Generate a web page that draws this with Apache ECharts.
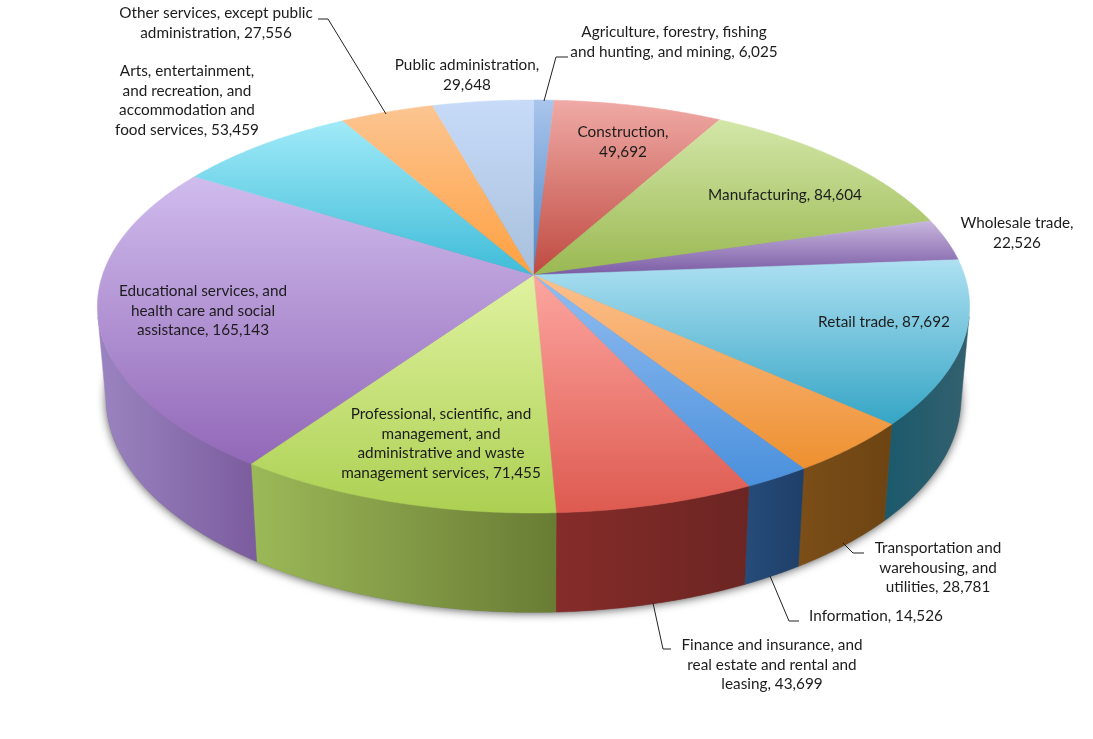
<!DOCTYPE html>
<html>
<head>
<meta charset="utf-8">
<style>html,body{margin:0;padding:0;background:#fff}#c{width:1093px;height:739px}</style>
<script src="https://cdn.jsdelivr.net/npm/echarts@6/dist/echarts.min.js"></script>
</head>
<body>
<div id="c"></div>
<script>
// ---- data ----
const categories = [
  "Agriculture, forestry, fishing\nand hunting, and mining, ",
  "Construction,\n",
  "Manufacturing, ",
  "Wholesale trade,\n",
  "Retail trade, ",
  "Transportation and\nwarehousing, and\nutilities, ",
  "Information, ",
  "Finance and insurance, and\nreal estate and rental and\nleasing, ",
  "Professional, scientific, and\nmanagement, and\nadministrative and waste\nmanagement services, ",
  "Educational services, and\nhealth care and social\nassistance, ",
  "Arts, entertainment,\nand recreation, and\naccommodation and\nfood services, ",
  "Other services, except public\nadministration, ",
  "Public administration,\n"
];
const values = [6025, 49692, 84604, 22526, 87692, 28781, 14526, 43699, 71455, 165143, 53459, 27556, 29648];

// ---- styles ----
const topColors = [
  ["#a9c5ec", "#4d86c6"], ["#f0aaa6", "#bf4a40"], ["#d3e7a8", "#9ab852"], ["#c8b6de", "#7a5ba4"],
  ["#aee0f2", "#35a5c5"], ["#fcc08e", "#ee9030"], ["#92bdf0", "#4a90dc"], ["#fca6a0", "#de5a50"],
  ["#e0f2a0", "#acd052"], ["#d0bced", "#9268b8"], ["#a0eaf8", "#3fbcd8"], ["#fcc592", "#ffa040"],
  ["#c7dbf9", "#a8c0dc"]
];
const wallColors = [
  ["#3a6a9c", "#2c5484"], ["#8c3a34", "#743028"], ["#8ea24c", "#72863c"], ["#7a5a9c", "#644a84"],
  ["#1a5a6c", "#34606e"], ["#7c4e18", "#6c4412"], ["#264c7a", "#1e3f68"], ["#862c2a", "#6b2522"],
  ["#9cb958", "#697c34"], ["#9a84c0", "#7b5c9e"], ["#3a9ab4", "#2c8aa4"], ["#c88238", "#b0702c"],
  ["#8aa0c0", "#7890b0"]
];
const labelLayout = [
  [674, 32], [623, 132], [785, 195], [1017, 223], [884, 322], [938, 548], [876, 616],
  [772, 645], [441, 414], [203, 291], [187, 71], [216, 13], [467, 65]
];
const leaders = [
  [[568, 57], [556, 57], [544, 101]],
  [[864, 553], [853, 553], [843, 543]],
  [[799, 621], [789, 621], [770, 576]],
  [[671, 649], [663, 649], [653, 603]],
  [[318, 19], [328, 19], [386, 114]]
];
const font = 'Lato';
const fontSize = 15.3;
const lineH = 19.7;

// ---- projection of the disc ----
const CX = 533.5, CY = 275, A = 431, B = 201.7, K = 0.1525;
const total = values.reduce((a, b) => a + b, 0);
let acc = 0;
const sliceData = values.map((v, i) => { const d = [acc / total, (acc + v) / total, i]; acc += v; return d; });

function rim(f) {
  const t = 2 * Math.PI * f, u = Math.sin(t), v = -Math.cos(t), w = 1 - K * v;
  return [CX + A * u / w, CY + B * v / w];
}
function low(p) {
  return [CX + (p[0] - CX) * 0.98, p[1] + 91 + 0.035 * (p[1] - CY)];
}
function arc(f0, f1) {
  const n = Math.max(2, Math.ceil((f1 - f0) * 720)), pts = [];
  for (let i = 0; i <= n; i++) pts.push(f0 + (f1 - f0) * i / n);
  return pts;
}
function facing(f) {
  const a = rim(f), b = rim(f + 0.0005), c = low(a);
  const dx = b[0] - a[0], dy = b[1] - a[1], ex = c[0] - a[0], ey = c[1] - a[1];
  return dx * ey - dy * ex < 0;
}
const grad = (x2, y2, c) => new echarts.graphic.LinearGradient(0, 0, x2, y2, [{offset: 0, color: c[0]}, {offset: 1, color: c[1]}]);

function renderTop(params, api) {
  const f0 = api.value(0), f1 = api.value(1), i = api.value(2);
  const pts = [[CX, CY]].concat(arc(f0, f1).map(rim));
  const fill = grad(0, 1, topColors[i]);
  return {type: 'polygon', shape: {points: pts}, style: {fill: fill, stroke: fill, lineWidth: 0.5}};
}
function renderWall(params, api) {
  const f0 = api.value(0), f1 = api.value(1), i = api.value(2);
  const vis = arc(f0, f1).filter(facing);
  if (vis.length < 2) return null;
  const t = vis.map(rim), b = t.map(low).reverse();
  const fill = grad(1, 0, wallColors[i]);
  return {type: 'polygon', shape: {points: t.concat(b)}, style: {fill: fill, stroke: fill, lineWidth: 0.5}};
}
function renderShadow(params, api) {
  const pts = arc(0, 1).map(rim).map(low);
  return {type: 'polygon', shape: {points: pts}, style: {fill: '#777', shadowBlur: 10, shadowColor: 'rgba(0,0,0,0.65)', shadowOffsetY: 1}};
}
function renderLabel(params, api) {
  const i = api.value(2), p = labelLayout[i];
  return {type: 'text', x: p[0], y: p[1] - lineH / 2, style: {
    text: categories[i] + values[i].toLocaleString('en-US'),
    font: fontSize + 'px ' + font, fill: '#1c1c1c', align: 'center', verticalAlign: 'top', lineHeight: lineH
  }};
}
const chart = echarts.init(document.getElementById('c'), null, {renderer: 'canvas'});
chart.setOption({
  animation: false,
  backgroundColor: '#fff',
  graphic: leaders.map(pts => ({
    type: 'polyline', z: 20, shape: {points: pts}, style: {stroke: '#222', lineWidth: 1, fill: null}
  })),
  series: [
    {type: 'custom', coordinateSystem: 'none', silent: true, z: 1, data: [[0, 1, 0]], renderItem: renderShadow},
    {type: 'custom', coordinateSystem: 'none', silent: true, z: 2, data: sliceData, renderItem: renderWall},
    {type: 'custom', coordinateSystem: 'none', silent: true, z: 3, data: sliceData, renderItem: renderTop},
    {type: 'custom', coordinateSystem: 'none', silent: true, z: 30, data: sliceData, renderItem: renderLabel}
  ]
});
</script>
</body>
</html>
